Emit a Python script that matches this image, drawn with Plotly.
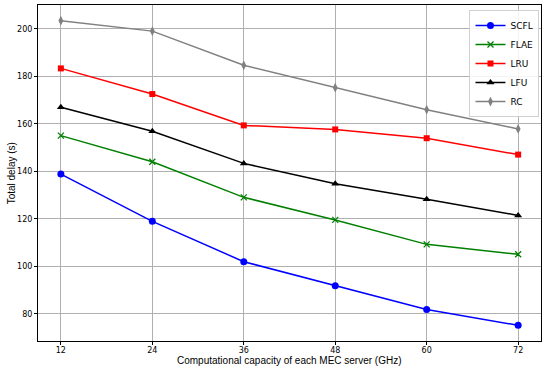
import plotly.graph_objects as go

x_vals = [12, 24, 36, 48, 60, 72]
scfl = [138.8, 118.9, 101.9, 91.8, 81.8, 75.1]
flae = [155.0, 144.0, 129.0, 119.5, 109.2, 105.0]
lru = [183.3, 172.5, 159.3, 157.6, 153.9, 147.0]
lfu = [166.9, 156.8, 143.3, 134.7, 128.2, 121.4]
rc = [203.4, 199.0, 184.6, 175.2, 165.9, 157.8]

series = [
    ("SCFL", scfl, "blue", "circle", 7),
    ("FLAE", flae, "green", "x-thin-open", 6),
    ("LRU", lru, "red", "square", 6),
    ("LFU", lfu, "black", "triangle-up", 7),
    ("RC", rc, "gray", "diamond-tall", 7),
]

fig = go.Figure()
for name, ys, col, sym, sz in series:
    fig.add_trace(go.Scatter(
        x=x_vals, y=ys, name=name, mode="lines+markers",
        line=dict(color=col, width=1.5),
        marker=dict(symbol=sym, size=sz, color=col,
                    line=dict(color=col, width=1.3 if "x" in sym else 0)),
    ))

axis_common = dict(
    showline=True, linecolor="black", linewidth=1, mirror=True,
    showgrid=True, gridcolor="#b0b0b0", gridwidth=1,
    ticks="outside", ticklen=3, tickcolor="black", tickwidth=0.8,
    zeroline=False, automargin=False,
    tickfont=dict(family="DejaVu Sans", size=8, color="black"),
)

title_font = dict(family="Liberation Sans", size=10, color="black")

fig.update_layout(
    width=550, height=370,
    margin=dict(l=38, r=9, t=5, b=29),
    paper_bgcolor="white", plot_bgcolor="white",
    xaxis=dict(range=[9, 75], tickvals=x_vals, ticklabelstandoff=-2, **axis_common),
    yaxis=dict(range=[68.5, 210], tickvals=[80, 100, 120, 140, 160, 180, 200],
               **axis_common),
    legend=dict(x=0.997, y=0.985, xanchor="right", yanchor="top",
                bgcolor="rgba(255,255,255,0.85)", bordercolor="#d0d0d0", borderwidth=1,
                font=dict(family="DejaVu Sans", size=9, color="black"),
                itemwidth=30, tracegroupgap=0),
    showlegend=True,
    annotations=[
        dict(text="Computational capacity of each MEC server (GHz)",
             xref="paper", yref="paper", x=0.5, y=-0.058,
             xanchor="center", yanchor="middle", showarrow=False, font=title_font),
        dict(text="Total delay (s)", textangle=-90,
             xref="paper", yref="paper", x=-0.053, y=0.5,
             xanchor="center", yanchor="middle", showarrow=False, font=title_font),
    ],
)

fig.write_html("out.html", config={"displayModeBar": False},
               post_script="document.body.style.margin='0px';")
